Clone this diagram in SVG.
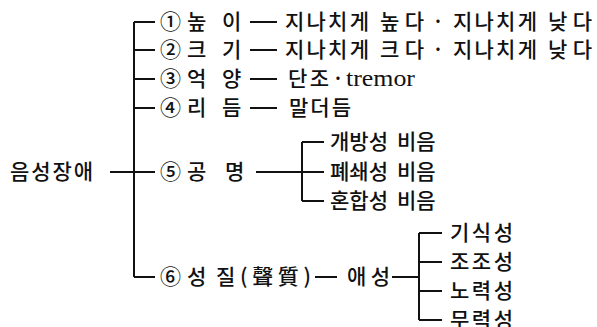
<svg xmlns="http://www.w3.org/2000/svg" width="597" height="327" viewBox="0 0 597 327">
<style>
text{font-family:"Noto Sans CJK KR","Noto Sans",sans-serif;font-size:21px;font-weight:500;fill:#111;}
.lat{font-family:"Liberation Serif",serif;font-size:23px;font-weight:normal;}
line,path{stroke:#111;stroke-width:2;fill:none;}
</style>
<rect width="597" height="327" fill="#fff"/>
<g id="connectors">
<line x1="110" y1="172" x2="134" y2="172"/>
<line x1="134" y1="22" x2="134" y2="277"/>
<line x1="134" y1="22" x2="155" y2="22"/>
<line x1="134" y1="50" x2="155" y2="50"/>
<line x1="134" y1="79" x2="155" y2="79"/>
<line x1="134" y1="108" x2="155" y2="108"/>
<line x1="134" y1="172" x2="155" y2="172"/>
<line x1="134" y1="277" x2="155" y2="277"/>
<line x1="250" y1="22" x2="277" y2="22"/>
<line x1="250" y1="50" x2="277" y2="50"/>
<line x1="250" y1="79" x2="277" y2="79"/>
<line x1="250" y1="108" x2="277" y2="108"/>
<line x1="256" y1="172" x2="324" y2="172"/>
<line x1="302" y1="142" x2="302" y2="201"/>
<line x1="302" y1="142" x2="324" y2="142"/>
<line x1="302" y1="201" x2="324" y2="201"/>
<line x1="315" y1="277" x2="337" y2="277"/>
<line x1="392" y1="277" x2="419" y2="277"/>
<line x1="419" y1="233" x2="419" y2="320"/>
<line x1="419" y1="233" x2="442" y2="233"/>
<line x1="419" y1="262" x2="442" y2="262"/>
<line x1="419" y1="291" x2="442" y2="291"/>
<line x1="419" y1="320" x2="442" y2="320"/>
</g>
<g id="root"><text x="10" y="179" textLength="83" lengthAdjust="spacing">음성장애</text></g>
<g id="n1"><text y="29"><tspan x="160">①</tspan><tspan x="187">높</tspan><tspan x="222">이</tspan></text>
<text x="285" y="29" textLength="84" lengthAdjust="spacing">지나치게</text>
<text x="380" y="29" textLength="44" lengthAdjust="spacing">높다</text>
<text x="432" y="29">·</text>
<text x="453" y="29" textLength="84" lengthAdjust="spacing">지나치게</text>
<text x="548" y="29" textLength="44" lengthAdjust="spacing">낮다</text></g>
<g id="n2"><text y="57"><tspan x="160">②</tspan><tspan x="187">크</tspan><tspan x="222">기</tspan></text>
<text x="285" y="57" textLength="84" lengthAdjust="spacing">지나치게</text>
<text x="380" y="57" textLength="44" lengthAdjust="spacing">크다</text>
<text x="432" y="57">·</text>
<text x="453" y="57" textLength="84" lengthAdjust="spacing">지나치게</text>
<text x="548" y="57" textLength="44" lengthAdjust="spacing">낮다</text></g>
<g id="n3"><text y="86"><tspan x="160">③</tspan><tspan x="187">억</tspan><tspan x="222">양</tspan></text>
<text x="288" y="86" textLength="41" lengthAdjust="spacing">단조</text><text x="332" y="86">·</text><text class="lat" x="346" y="86" textLength="69" lengthAdjust="spacingAndGlyphs">tremor</text></g>
<g id="n4"><text y="115"><tspan x="160">④</tspan><tspan x="187">리</tspan><tspan x="222">듬</tspan></text>
<text x="289" y="115" textLength="62" lengthAdjust="spacing">말더듬</text></g>
<g id="n5"><text y="179"><tspan x="160">⑤</tspan><tspan x="187">공</tspan><tspan x="225">명</tspan></text></g>
<g id="n5a"><text y="149"><tspan x="330">개방성</tspan><tspan x="397">비음</tspan></text></g>
<g id="n5b"><text y="179"><tspan x="330">폐쇄성</tspan><tspan x="397">비음</tspan></text></g>
<g id="n5c"><text y="208"><tspan x="330">혼합성</tspan><tspan x="397">비음</tspan></text></g>
<g id="n6"><text y="284"><tspan x="160">⑥</tspan><tspan x="187">성</tspan></text>
<text x="216" y="284" textLength="95" lengthAdjust="spacing">질(聲質)</text></g>
<g id="n6x"><text x="347" y="284" textLength="43" lengthAdjust="spacing">애성</text></g>
<g id="n6a"><text x="450" y="240" textLength="63" lengthAdjust="spacing">기식성</text></g>
<g id="n6b"><text x="450" y="269" textLength="63" lengthAdjust="spacing">조조성</text></g>
<g id="n6c"><text x="450" y="298" textLength="63" lengthAdjust="spacing">노력성</text></g>
<g id="n6d"><text x="450" y="327" textLength="63" lengthAdjust="spacing">무력성</text></g>
</svg>
